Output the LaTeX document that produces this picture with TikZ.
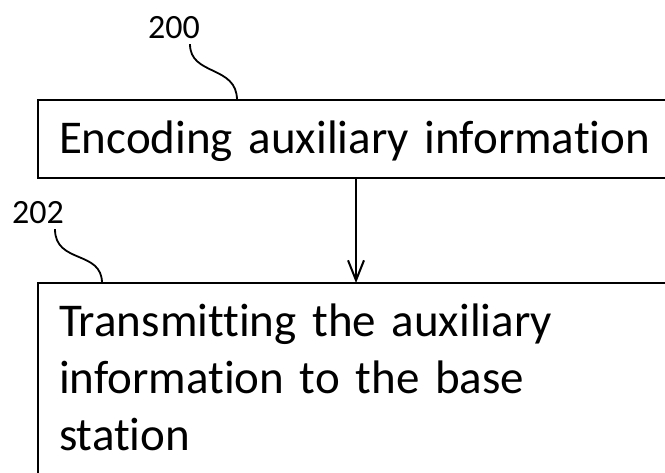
\documentclass[tikz,border=0pt]{standalone}
\usepackage{fontspec}
\setmainfont{Carlito}[Ligatures={NoCommon}]
\usetikzlibrary{arrows.meta}
\def\boxwidth{636pt}

\begin{document}
\begin{tikzpicture}[x=1pt,y=-1pt,line width=2pt,draw=black]
  \tikzstyle{stepbox}=[draw,rectangle,anchor=north west,outer sep=0pt,minimum width=\boxwidth,text width=594pt,align=left,inner xsep=21pt,inner ysep=0pt,font=\fontsize{47}{57}\selectfont]
  \tikzstyle{refnum}=[font=\fontsize{34}{40}\selectfont,inner sep=0pt]
  \tikzstyle{leader}=[line width=1.8pt]

  \useasboundingbox (0,0) rectangle (665,473);
  \clip (0,0) rectangle (665,473);

  \node[stepbox,minimum height=78pt,text height=30pt,text depth=0pt] (enc) at (38,100) {\mbox{Encoding auxiliary information}};
  \node[stepbox,text height=54pt,text depth=190pt] (tx) at (38,283) {Transmitting the auxiliary\\information to the base\\station};

  \draw[-{Straight Barb[length=20pt,width=16pt]}] (enc) -- (tx);

  % reference numerals
  \node[refnum] (n200) at (174,28) {200};
  \node[refnum] (n202) at (38,213) {202};
  \coordinate (e200) at (237,100);
  \coordinate (e202) at (102,283);
  \draw[leader] ([xshift=16pt,yshift=-4pt]n200.south) .. controls +(0,32) and +(0,-35) .. (e200);
  \draw[leader] ([xshift=17pt,yshift=-4pt]n202.south) .. controls +(0,35) and +(0,-33) .. (e202);
\end{tikzpicture}
\end{document}
